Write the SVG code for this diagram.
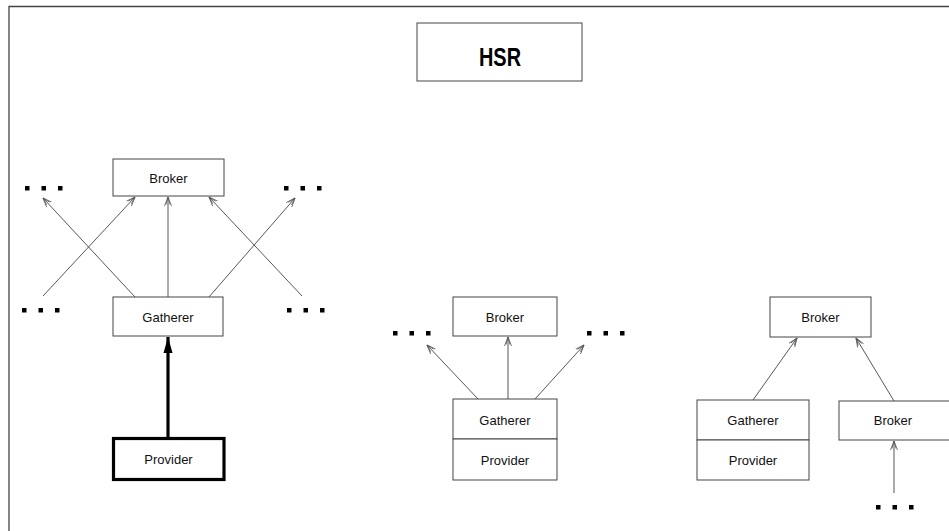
<svg xmlns="http://www.w3.org/2000/svg" width="949" height="531" viewBox="0 0 949 531">
  <style>
    .box { fill: #fff; stroke: #444; stroke-width: 1; }
    .thick { fill: #fff; stroke: #000; stroke-width: 3.2; }
    .lbl { font-family: "Liberation Sans", Arial, sans-serif; font-size: 13px; fill: #111; text-anchor: middle; }
    .title { font-family: "Liberation Sans", Arial, sans-serif; font-size: 25px; font-weight: bold; fill: #000; text-anchor: middle; }
    .link { stroke: #444; stroke-width: 0.9; fill: none; marker-end: url(#open); }
    .dot { fill: #000; }
  </style>
  <defs>
    <marker id="open" markerUnits="userSpaceOnUse" markerWidth="12" markerHeight="10" refX="9" refY="4" orient="auto">
      <path d="M0,0.5 L9,4 L0,7.5 M1.5,2 L9,4 L1.5,6" fill="none" stroke="#555" stroke-width="0.8"/>
    </marker>
    <marker id="solid" markerUnits="userSpaceOnUse" markerWidth="20" markerHeight="12" refX="16" refY="5" orient="auto">
      <path d="M0,0.5 L16,5 L0,9.5 Z" fill="#000"/>
    </marker>
    <g id="dots3">
      <rect x="-2" y="-2" width="4.5" height="4.5"/>
      <rect x="14.5" y="-2" width="4.5" height="4.5"/>
      <rect x="31" y="-2" width="4.5" height="4.5"/>
    </g>
  </defs>

  <!-- page frame -->
  <path d="M9,531 V6.5 H949" fill="none" stroke="#444" stroke-width="1.3"/>

  <!-- title -->
  <g id="hsr">
    <rect class="box" x="417" y="23" width="165" height="58"/>
    <text class="title" x="500" y="66" textLength="42" lengthAdjust="spacingAndGlyphs">HSR</text>
  </g>

  <!-- left cluster -->
  <g id="broker-left">
    <rect class="box" x="113" y="159" width="111" height="37"/>
    <text class="lbl" x="168.5" y="183">Broker</text>
  </g>
  <g id="gatherer-left">
    <rect class="box" x="113" y="297" width="110" height="39"/>
    <text class="lbl" x="168" y="322">Gatherer</text>
  </g>
  <g id="provider-left">
    <rect class="thick" x="113.5" y="438.5" width="110.5" height="41"/>
    <text class="lbl" x="168.5" y="464">Provider</text>
  </g>

  <!-- middle cluster -->
  <g id="broker-mid">
    <rect class="box" x="453" y="297" width="104" height="39"/>
    <text class="lbl" x="505" y="322">Broker</text>
  </g>
  <g id="gatherer-mid">
    <rect class="box" x="453" y="399" width="104" height="40"/>
    <text class="lbl" x="505" y="425">Gatherer</text>
  </g>
  <g id="provider-mid">
    <rect class="box" x="453" y="439" width="104" height="41"/>
    <text class="lbl" x="505" y="465">Provider</text>
  </g>

  <!-- right cluster -->
  <g id="broker-top-right">
    <rect class="box" x="770" y="297" width="101" height="40"/>
    <text class="lbl" x="820.5" y="322">Broker</text>
  </g>
  <g id="gatherer-right">
    <rect class="box" x="697" y="400" width="112" height="40"/>
    <text class="lbl" x="753" y="425">Gatherer</text>
  </g>
  <g id="provider-right">
    <rect class="box" x="697" y="440" width="112" height="40"/>
    <text class="lbl" x="753" y="465">Provider</text>
  </g>
  <g id="broker-low-right">
    <rect class="box" x="839" y="401" width="130" height="39"/>
    <text class="lbl" x="893" y="425">Broker</text>
  </g>

  <!-- continuation marks -->
  <g id="ellipses">
    <use href="#dots3" x="27" y="188"/>
    <use href="#dots3" x="286" y="188"/>
    <use href="#dots3" x="24" y="310"/>
    <use href="#dots3" x="289" y="310"/>
    <use href="#dots3" x="395" y="333"/>
    <use href="#dots3" x="589" y="333"/>
    <use href="#dots3" x="878" y="507"/>
  </g>

  <!-- connectors -->
  <g id="connectors">
    <line class="link" x1="135" y1="297" x2="43" y2="198"/>
    <line class="link" x1="43" y1="296" x2="135" y2="197"/>
    <line class="link" x1="168" y1="297" x2="168" y2="197"/>
    <line class="link" x1="209" y1="297" x2="295" y2="198"/>
    <line class="link" x1="302" y1="296" x2="209" y2="197"/>

    <line class="link" x1="478" y1="399" x2="427" y2="345"/>
    <line class="link" x1="508" y1="399" x2="508" y2="337"/>
    <line class="link" x1="535" y1="399" x2="584" y2="345"/>

    <line class="link" x1="753" y1="400" x2="797" y2="338"/>
    <line class="link" x1="894" y1="401" x2="856" y2="338"/>
    <line class="link" x1="894" y1="493" x2="894" y2="441"/>

    <line x1="168" y1="438" x2="168" y2="337" stroke="#000" stroke-width="3.2" marker-end="url(#solid)"/>
  </g>
</svg>
